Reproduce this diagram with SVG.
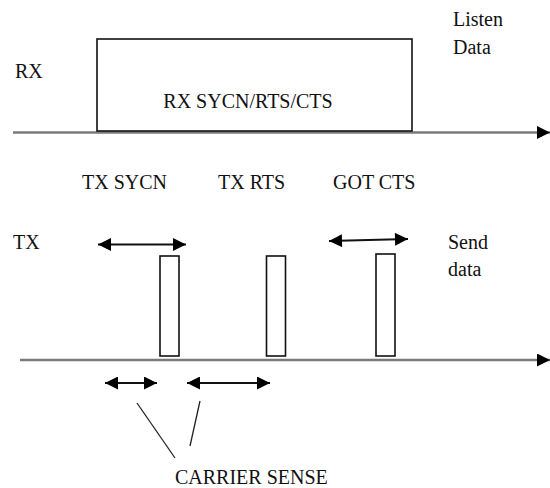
<svg xmlns="http://www.w3.org/2000/svg" width="550" height="488" viewBox="0 0 550 488">
  <style>
    .axis { stroke: #7a7a7a; stroke-width: 2.5; fill: none; }
    .box { fill: #fff; stroke: #111; stroke-width: 1.6; }
    .span { stroke: #111; stroke-width: 2; fill: none; }
    .lead { stroke: #222; stroke-width: 1.3; fill: none; }
  </style>
  <defs>
    <marker id="axisHead" viewBox="0 0 10 10" refX="10" refY="5" markerUnits="userSpaceOnUse" markerWidth="13" markerHeight="13" orient="auto">
      <path d="M0,0 L10,5 L0,10 Z" fill="#000"/>
    </marker>
    <marker id="spanHead" viewBox="0 0 10 10" refX="10" refY="5" markerUnits="userSpaceOnUse" markerWidth="14" markerHeight="13" orient="auto-start-reverse">
      <path d="M0,0 L10,5 L0,10 Z" fill="#000"/>
    </marker>
  </defs>

  <!-- time axes -->
  <g id="connectors">
    <line class="axis" x1="13" y1="132.5" x2="550" y2="132.5" marker-end="url(#axisHead)"/>
    <line class="axis" x1="20" y1="360" x2="550" y2="360" marker-end="url(#axisHead)"/>

    <!-- interval arrows -->
    <line class="span" x1="98" y1="244.5" x2="186" y2="244.5" marker-start="url(#spanHead)" marker-end="url(#spanHead)"/>
    <line class="span" x1="329" y1="241" x2="408" y2="239" marker-start="url(#spanHead)" marker-end="url(#spanHead)"/>
    <line class="span" x1="105" y1="383" x2="157" y2="383" marker-start="url(#spanHead)" marker-end="url(#spanHead)"/>
    <line class="span" x1="187" y1="383" x2="270" y2="383" marker-start="url(#spanHead)" marker-end="url(#spanHead)"/>

    <!-- carrier sense leaders -->
    <line class="lead" x1="137" y1="403" x2="175" y2="458"/>
    <line class="lead" x1="200" y1="401" x2="190" y2="446"/>
  </g>

  <g font-family="Liberation Serif, DejaVu Serif, Noto Serif, serif" font-size="20" fill="#111">
    <!-- receiver window -->
    <g id="rx-window">
      <rect class="box" x="97" y="39" width="315" height="92"/>
      <text x="248" y="108" text-anchor="middle">RX SYCN/RTS/CTS</text>
    </g>

    <!-- transmit bursts -->
    <g id="tx-sync">
      <rect class="box" x="160" y="256" width="19" height="100"/>
    </g>
    <g id="tx-rts">
      <rect class="box" x="266.5" y="256" width="19" height="100"/>
    </g>
    <g id="tx-cts">
      <rect class="box" x="376" y="254" width="19" height="102"/>
    </g>

    <!-- labels -->
    <g id="labels">
      <text x="15" y="78">RX</text>
      <text x="453" y="26">Listen</text>
      <text x="453" y="54">Data</text>
      <text x="82" y="189">TX SYCN</text>
      <text x="218" y="189">TX RTS</text>
      <text x="333" y="189">GOT CTS</text>
      <text x="13" y="249">TX</text>
      <text x="448" y="249">Send</text>
      <text x="448" y="276">data</text>
      <text x="175" y="484">CARRIER SENSE</text>
    </g>
  </g>
</svg>
